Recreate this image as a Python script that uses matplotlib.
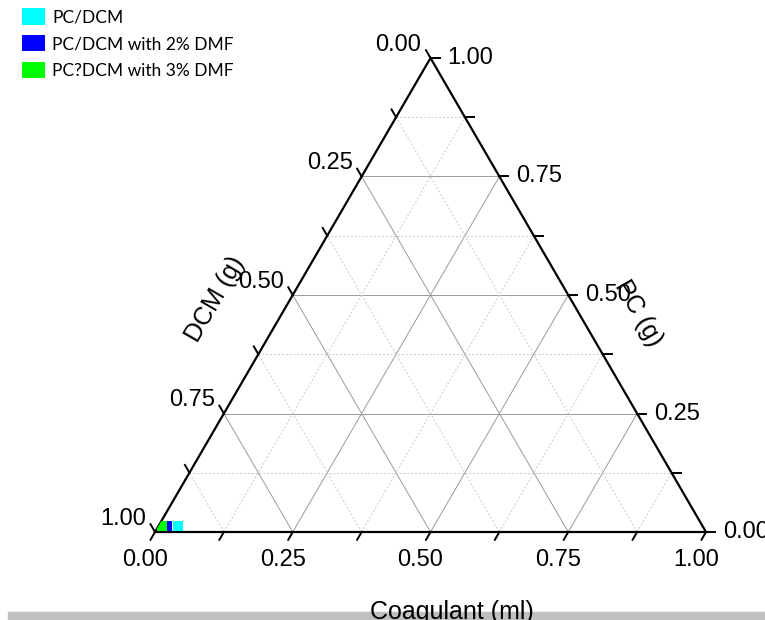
import numpy as np
import matplotlib.pyplot as plt
from matplotlib.patches import Polygon, Rectangle, Patch

# data
series_names = ['PC/DCM', 'PC/DCM with 2% DMF', 'PC?DCM with 3% DMF']
series_colors = ['#00ffff', '#0000ff', '#00ff00']
series_zorder = [5, 4, 6]
coagulant = [0.035, 0.016, 0.006]
pc = [0.012, 0.012, 0.012]
dcm = [0.953, 0.972, 0.982]

major_ticks = [0.0, 0.25, 0.5, 0.75, 1.0]
major_labels = ['0.00', '0.25', '0.50', '0.75', '1.00']
minor_ticks = [0.125, 0.375, 0.625, 0.875]

H = np.sqrt(3) / 2
W_PX, H_PX = 765, 620
TRI_W, TRI_H = 551, 474          # triangle size in pixels
PX_X = TRI_W                      # pixels per data unit (x)
PX_Y = TRI_H / H                  # pixels per data unit (y)
PT = 0.72                         # points per pixel at dpi 100

plt.rcParams['font.family'] = ['Liberation Sans', 'DejaVu Sans']


def to_xy(c, p):
    """coagulant / PC fractions -> cartesian"""
    return c + p / 2, p * H


def seg(ax, p0, p1, **kw):
    x0, y0 = to_xy(*p0)
    x1, y1 = to_xy(*p1)
    ax.plot([x0, x1], [y0, y1], **kw)


def main():
    fig = plt.figure(figsize=(W_PX / 100, H_PX / 100), dpi=100)
    ax = fig.add_axes([155 / W_PX, 88 / H_PX, TRI_W / W_PX, TRI_H / H_PX])
    ax.set_xlim(0, 1)
    ax.set_ylim(0, H)
    ax.axis('off')

    # grid
    for v in major_ticks[1:-1] + minor_ticks:
        if v in major_ticks:
            kw = dict(color='#9a9a9a', lw=0.7, ls='-', zorder=1)
        else:
            kw = dict(color='#c8c8c8', lw=0.7, ls=(0, (2, 2)), zorder=1)
        seg(ax, (0, v), (1 - v, v), **kw)        # PC const
        seg(ax, (v, 0), (v, 1 - v), **kw)        # coagulant const
        seg(ax, (1 - v, 0), (0, 1 - v), **kw)    # DCM const

    # triangle frame
    corners = [to_xy(0, 0), to_xy(1, 0), to_xy(0, 1)]
    tri = Polygon(corners, closed=True, fill=False, edgecolor='black',
                  lw=1.6, zorder=3, transform=ax.transData, clip_on=False)
    ax.add_patch(tri)

    # ticks
    tl = 9
    for v in major_ticks + minor_ticks:
        # bottom: coagulant, tick down-left
        x, y = to_xy(v, 0)
        ax.plot([x, x - 0.5 * tl / PX_X], [y, y - H * tl / PX_Y],
                color='black', lw=1.4, clip_on=False, zorder=3)
        # left: DCM, tick up-left
        x, y = to_xy(0, v)
        ax.plot([x, x - 0.5 * tl / PX_X], [y, y + H * tl / PX_Y],
                color='black', lw=1.4, clip_on=False, zorder=3)
        # right: PC, tick right
        x, y = to_xy(1 - v, v)
        ax.plot([x, x + tl / PX_X], [y, y],
                color='black', lw=1.4, clip_on=False, zorder=3)

    fs = 17
    for v, lab in zip(major_ticks, major_labels):
        x, y = to_xy(v, 0)
        ax.annotate(lab, (x, y), xytext=(-10 * PT, -28 * PT),
                    textcoords='offset points', ha='center', va='center',
                    fontsize=fs, annotation_clip=False)
        # DCM value v sits where PC = 1 - v on the left edge
        x, y = to_xy(0, 1 - v)
        ax.annotate(lab, (x, y), xytext=(-9 * PT, 7 * PT),
                    textcoords='offset points', ha='right', va='baseline',
                    fontsize=fs, annotation_clip=False)
        x, y = to_xy(1 - v, v)
        ax.annotate(lab, (x, y), xytext=(17 * PT, 0),
                    textcoords='offset points', ha='left', va='center',
                    fontsize=fs, annotation_clip=False)

    # axis titles
    ax.annotate('Coagulant (ml)', (0.5, 0), xytext=(21 * PT, -80 * PT),
                textcoords='offset points', ha='center', va='center',
                fontsize=18, annotation_clip=False, zorder=10)
    x, y = to_xy(0, 0.5)
    ax.annotate('DCM (g)', (x, y), xytext=(-78 * PT, -4 * PT),
                textcoords='offset points', ha='center', va='center',
                rotation=60, fontsize=18, annotation_clip=False)
    x, y = to_xy(0.5, 0.5)
    ax.annotate('PC (g)', (x, y), xytext=(70 * PT, -18 * PT),
                textcoords='offset points', ha='center', va='center',
                rotation=-60, fontsize=18, annotation_clip=False)

    # data, clipped to the triangle
    clip = Polygon(corners, closed=True, transform=ax.transData)
    for c, p, d, col, z in zip(coagulant, pc, dcm, series_colors, series_zorder):
        tot = c + p + d
        x, y = to_xy(c / tot, p / tot)
        ln, = ax.plot([x], [y], marker='s', ms=7.4, color=col, mew=0,
                      ls='none', zorder=z, clip_on=True)
        ln.set_clip_path(clip)

    # legend
    handles = [Patch(facecolor=col, edgecolor='none', label=n)
               for n, col in zip(series_names, series_colors)]
    fig.legend(handles=handles, loc='upper left',
               bbox_to_anchor=(22 / W_PX, 1 - 8 / H_PX), frameon=False,
               prop=dict(family=['Lato', 'DejaVu Sans'], size=12.5),
               handlelength=1.3, handleheight=1.1, handletextpad=0.45,
               labelspacing=0.55, borderpad=0, borderaxespad=0)

    # grey strip at the bottom of the page
    fig.add_artist(Rectangle((8 / W_PX, 0), 757 / W_PX, 8 / H_PX,
                             transform=fig.transFigure, color='#c0c0c0',
                             zorder=0))

    fig.savefig('out.png', dpi=100)


if __name__ == "__main__":
    main()
